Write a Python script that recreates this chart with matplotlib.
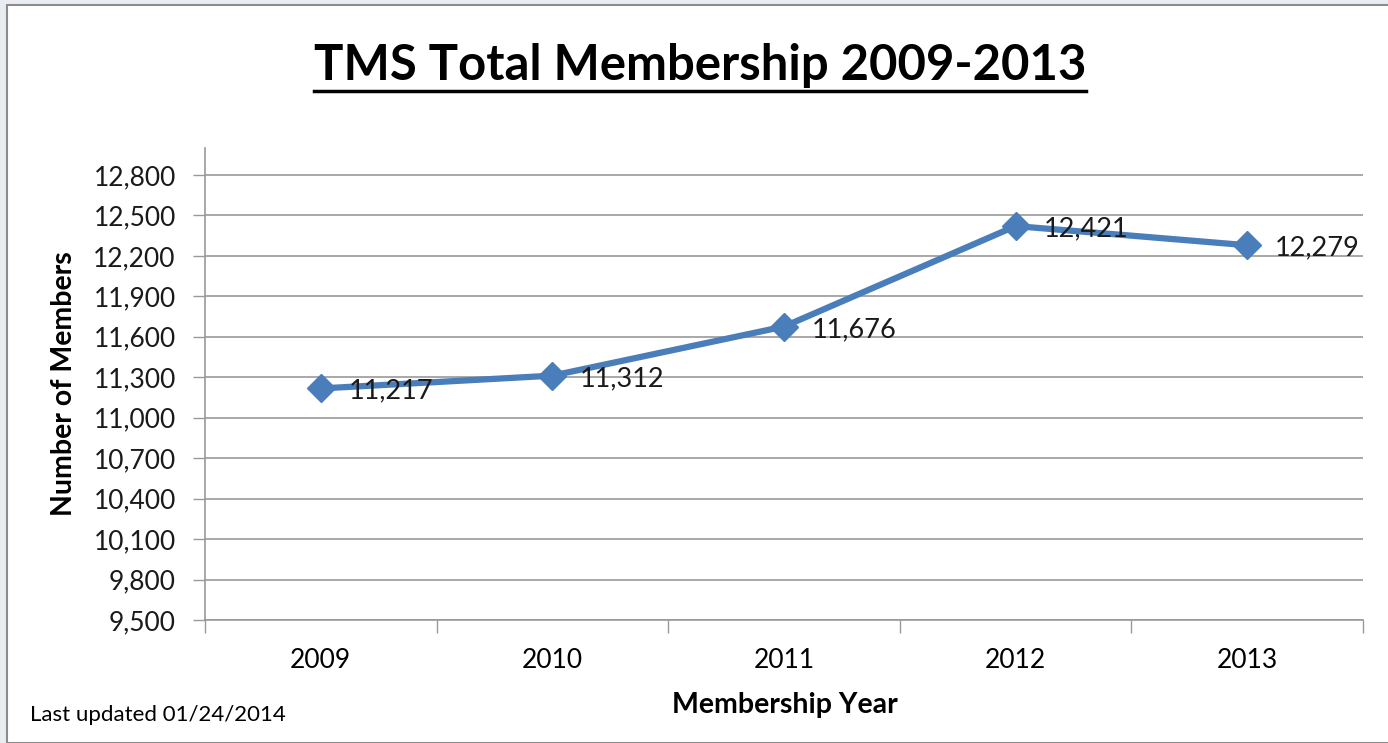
import matplotlib
matplotlib.use("Agg")
import matplotlib.pyplot as plt
from matplotlib.patches import Rectangle
from matplotlib.lines import Line2D
from matplotlib.ticker import FuncFormatter, FixedLocator

years = ["2009", "2010", "2011", "2012", "2013"]
members = [11217, 11312, 11676, 12421, 12279]
yticks = [9500, 9800, 10100, 10400, 10700, 11000, 11300, 11600, 11900, 12200, 12500, 12800]
title = "TMS Total Membership 2009-2013"
ylabel = "Number of Members"
xlabel = "Membership Year"
note = "Last updated 01/24/2014"

W, H = 1388, 743
fig = plt.figure(figsize=(W / 100, H / 100), dpi=100)
fig.patch.set_facecolor("#E9ECF0")
fig.patches.append(Rectangle((7 / W, 0), 1.0, 1 - 5 / H, transform=fig.transFigure,
                             facecolor="white", edgecolor="#8C8C8C", linewidth=1.5, zorder=-10))

font = ["Lato", "DejaVu Sans"]
plt.rcParams["font.family"] = font

ax = fig.add_axes([205 / W, 123 / H, 1158 / W, 472 / H])
ax.set_zorder(5)
ax.patch.set_alpha(0)
x = list(range(len(years)))
ax.plot(x, members, color="#4A7EBB", linewidth=4.5, marker="D", markersize=14,
        markerfacecolor="#4A7EBB", markeredgecolor="#4A7EBB", zorder=3)
for xi, v in zip(x, members):
    ax.annotate(f"{v:,}", (xi, v), xytext=(20, -2), textcoords="offset points",
                ha="left", va="center", fontsize=19.5, color="#1a1a1a", zorder=4)

ax.set_xlim(-0.5, len(years) - 0.5)
ax.set_ylim(9500, 13000)
ax.yaxis.set_major_locator(FixedLocator(yticks))
ax.yaxis.set_major_formatter(FuncFormatter(lambda v, p: f"{int(v):,}"))
ax.grid(axis="y", color="#999999", linewidth=1.2)
ax.set_axisbelow(True)
ax.set_xticks(x)
ax.set_xticklabels(years)
ax.set_xticks([i - 0.5 for i in range(len(years) + 1)], minor=True)
ax.tick_params(axis="x", which="major", length=0, pad=20, labelsize=19)
ax.tick_params(axis="x", which="minor", length=9, width=1, color="#999999", direction="out")
ax.tick_params(axis="y", length=9, width=1, color="#999999", labelsize=19, pad=12)
for s in ["top", "right"]:
    ax.spines[s].set_visible(False)
ax.spines["left"].set_color("#999999")
ax.spines["bottom"].set_color("#999999")
ax.spines["left"].set_linewidth(1.2)
ax.spines["bottom"].set_linewidth(1.2)
for lab in ax.get_yticklabels():
    lab.set_color("#1a1a1a")

ax.set_ylabel(ylabel, fontsize=20.5, fontweight="bold")
ax.yaxis.set_label_coords(-128 / 1158, 0.5)
fig.text(785 / W, 1 - 705 / H, xlabel, ha="center", va="center", fontsize=20.5, fontweight="bold")
fig.text(30 / W, 1 - 715 / H, note, ha="left", va="center", fontsize=16)

t = fig.text(700 / W, 1 - 66 / H, title, ha="center", va="center", fontsize=35.3, fontweight="bold")
fig.canvas.draw()
bb = t.get_window_extent()
yline = bb.y0 - 2
fig.lines.append(Line2D([bb.x0 / W, bb.x1 / W], [yline / H, yline / H], transform=fig.transFigure,
                        color="black", linewidth=2.5))

fig.savefig("out.png", dpi=100, facecolor=fig.get_facecolor())
